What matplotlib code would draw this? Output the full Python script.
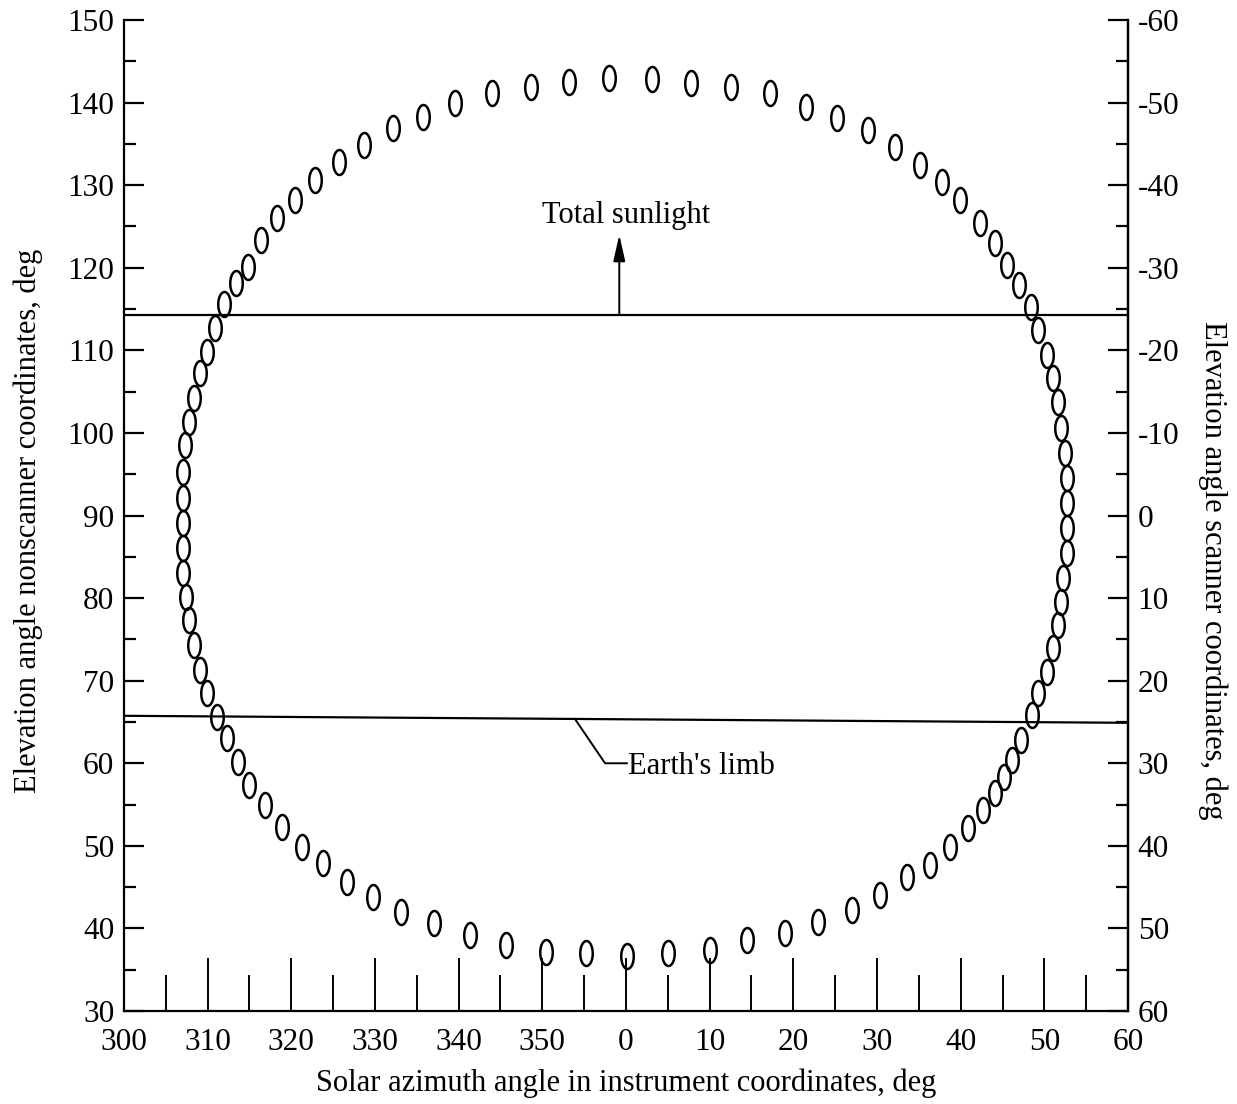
import numpy as np
import matplotlib
matplotlib.use('Agg')
import matplotlib.pyplot as plt
from matplotlib.path import Path
from matplotlib.ticker import FixedLocator, FuncFormatter

plt.rcParams['font.family'] = ['Liberation Serif', 'DejaVu Serif']
plt.rcParams['axes.unicode_minus'] = False

# ---- data (degrees) ----
# solar azimuth in instrument coordinates (negative = 300..359)
azimuth = [
    -46.6, -45.2, -43.6, -41.7, -39.5, -37.2, -34.3, -31.3, -27.8, -24.3,
    -20.4, -16.0, -11.4, -6.8, -2.0, 3.1, 7.8, 12.5, 17.2, 21.5,
    25.2, 28.9, 32.1, 35.1, 37.8, 39.9, 42.3, 44.1, 45.5, 47.0,
    48.4, 49.2, 50.3, 51.0, 51.6, 52.0, 52.5, 52.7, 52.7, 52.7,
    52.7, 52.2, 52.0, 51.6, 51.0, 50.3, 49.3, 48.5, 47.2, 46.1,
    45.2, 44.1, 42.7, 40.9, 38.7, 36.3, 33.6, 30.3, 27.0, 22.9,
    19.0, 14.5, 10.0, 5.0, 0.1, -4.8, -9.6, -14.3, -18.6, -22.9,
    -26.9, -30.2, -33.3, -36.2, -38.7, -41.1, -43.1, -45.0, -46.4, -47.7,
    -48.9, -50.1, -50.9, -51.6, -52.2, -52.6, -52.9, -53.0, -53.0, -53.0,
    -52.9, -52.7, -52.2, -51.6, -50.9, -50.1, -49.1, -48.0,
]
# elevation angle, nonscanner coordinates
elevation = [
    118.2, 120.1, 123.4, 126.0, 128.2, 130.6, 132.8, 134.9, 136.9, 138.3,
    139.9, 141.2, 141.9, 142.5, 143.0, 142.9, 142.4, 141.9, 141.2, 139.5,
    138.1, 136.7, 134.6, 132.4, 130.4, 128.2, 125.4, 123.0, 120.3, 117.9,
    115.2, 112.5, 109.4, 106.6, 103.7, 100.6, 97.6, 94.5, 91.5, 88.5,
    85.5, 82.4, 79.5, 76.7, 74.0, 71.0, 68.5, 65.8, 62.8, 60.4,
    58.3, 56.4, 54.3, 52.2, 49.9, 47.7, 46.2, 44.0, 42.2, 40.8,
    39.4, 38.6, 37.4, 37.0, 36.7, 37.0, 37.1, 38.0, 39.2, 40.7,
    42.0, 43.8, 45.6, 47.9, 49.9, 52.3, 54.9, 57.4, 60.1, 63.1,
    65.6, 68.5, 71.3, 74.3, 77.3, 80.1, 83.0, 86.1, 89.1, 92.1,
    95.3, 98.5, 101.3, 104.2, 107.3, 109.8, 112.7, 115.6,
]
sunlight_x = [-60, 60]
sunlight_y = [114.3, 114.3]
limb_x = [-60, 60]
limb_y = [65.75, 64.9]
x_ticks = list(range(-60, 61, 10))
x_minor = list(range(-55, 56, 10))
y_ticks = list(range(30, 151, 10))
y_minor = list(range(35, 150, 10))
y2_ticks = list(range(-60, 61, 10))
y2_minor = list(range(-55, 56, 10))

FS = 22.5
LFS = 22
fig = plt.figure(figsize=(12.37, 11.04), dpi=100)
ax = fig.add_axes([0.1002, 0.0842, 0.8117, 0.8977])
ax.set_xlim(-60, 60)
ax.set_ylim(30, 150)

# ellipse marker
t = np.linspace(0, 2 * np.pi, 64)
ell = Path(np.column_stack([0.5 * np.sin(t), np.cos(t)]), closed=True)
ax.plot(azimuth, elevation, linestyle='none', marker=ell, ms=18,
        mfc='none', mec='black', mew=1.8)

ax.plot(sunlight_x, sunlight_y, color='black', lw=1.6)
ax.plot(limb_x, limb_y, color='black', lw=1.6)

ax.annotate('', xy=(-0.8, 124.0), xytext=(-0.8, 114.3),
            arrowprops=dict(arrowstyle='-|>,head_length=0.8,head_width=0.18',
                            color='black', lw=1.4, mutation_scale=20,
                            shrinkA=0, shrinkB=0))
ax.text(0, 125.4, 'Total sunlight', ha='center', va='baseline', fontsize=LFS)
ax.plot([-6.1, -2.5, 0.1], [65.37, 60.0, 60.0], color='black', lw=1.4)
ax.text(0.3, 58.7, "Earth's limb", ha='left', va='baseline', fontsize=LFS)

# spines
for s in ['left', 'right', 'bottom']:
    ax.spines[s].set_linewidth(1.6)
ax.spines['top'].set_visible(False)

ax.xaxis.set_major_locator(FixedLocator(x_ticks))
ax.xaxis.set_minor_locator(FixedLocator(x_minor))
ax.xaxis.set_major_formatter(FuncFormatter(lambda v, p: f"{int(round(v)) % 360}"))
ax.tick_params(axis='x', which='major', direction='in', length=38, width=1.4,
               pad=12, labelsize=FS, top=False)
ax.tick_params(axis='x', which='minor', direction='in', length=26, width=1.4, top=False)

ax.yaxis.set_major_locator(FixedLocator(y_ticks))
ax.yaxis.set_minor_locator(FixedLocator(y_minor))
ax.yaxis.set_major_formatter(FuncFormatter(lambda v, p: f"{int(round(v))}"))
ax.tick_params(axis='y', which='major', direction='in', length=14.5, width=1.6,
               pad=7, labelsize=FS, right=False)
ax.tick_params(axis='y', which='minor', direction='in', length=8.5, width=1.6, right=False)

sec = ax.secondary_yaxis('right', functions=(lambda y: 90 - y, lambda y: 90 - y))
sec.yaxis.set_major_locator(FixedLocator(y2_ticks))
sec.yaxis.set_minor_locator(FixedLocator(y2_minor))
sec.yaxis.set_major_formatter(FuncFormatter(lambda v, p: f"{int(round(v))}"))
sec.tick_params(axis='y', which='major', direction='in', length=14.5, width=1.6,
                pad=7, labelsize=FS)
sec.tick_params(axis='y', which='minor', direction='in', length=8.5, width=1.6)
sec.spines['right'].set_linewidth(1.6)

fig.text(626 / 1237, 1 - 1083 / 1104,
         'Solar azimuth angle in instrument coordinates, deg',
         ha='center', va='center', fontsize=LFS)
fig.text(28 / 1237, 1 - 521 / 1104,
         'Elevation angle nonscanner coordinates, deg',
         ha='center', va='center', rotation=90, fontsize=LFS)
fig.text(1213 / 1237, 1 - 570 / 1104,
         'Elevation angle scanner coordinates, deg',
         ha='center', va='center', rotation=270, fontsize=LFS)

fig.savefig('out.png', dpi=100, facecolor='white')
